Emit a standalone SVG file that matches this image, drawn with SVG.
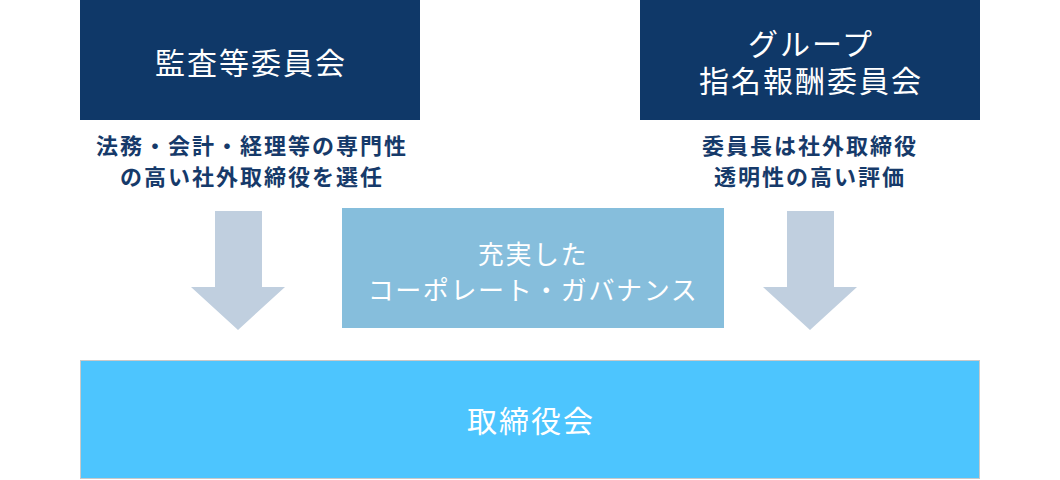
<svg xmlns="http://www.w3.org/2000/svg" width="1060" height="480" viewBox="0 0 1060 480">
<style>
.t{font-family:"Noto Sans CJK JP","Noto Sans",sans-serif;text-anchor:middle;dominant-baseline:central;}
.w{fill:#ffffff;}
.title{font-size:30px;letter-spacing:2px;}
.desc{font-size:22px;font-weight:bold;letter-spacing:2px;fill:#163a6a;}
.mid{font-size:26px;letter-spacing:1.6px;}
.navy{fill:#0f3868;}
.arrow{fill:#c0cfdf;}
</style>
<rect width="1060" height="480" fill="#ffffff"/>
<g id="audit">
<rect class="navy" x="80" y="0" width="340" height="120"/>
<text class="t w title" x="251" y="61">監査等委員会</text>
<text class="t desc"><tspan x="252" y="143.5">法務・会計・経理等の専門性</tspan><tspan x="252" y="175">の高い社外取締役を選任</tspan></text>
</g>
<g id="nomination">
<rect class="navy" x="640" y="0" width="340" height="120"/>
<text class="t w title"><tspan x="811" y="41.5">グループ</tspan><tspan x="811" y="79">指名報酬委員会</tspan></text>
<text class="t desc"><tspan x="810" y="143.5">委員長は社外取締役</tspan><tspan x="810" y="175">透明性の高い評価</tspan></text>
</g>
<g id="governance">
<rect x="342" y="208" width="382" height="120" fill="#86bedc"/>
<text class="t w mid"><tspan x="533" y="252">充実した</tspan><tspan x="533" y="288">コーポレート・ガバナンス</tspan></text>
</g>
<g id="board">
<rect x="80.5" y="360.5" width="899" height="118" fill="#4dc5fe" stroke="#c9c9c9" stroke-width="1"/>
<text class="t w title" x="531" y="419">取締役会</text>
</g>
<g id="connectors">
<polygon class="arrow" points="215,211 262,211 262,287 285,287 238,330 191,287 215,287"/>
<polygon class="arrow" points="787,211 834,211 834,287 857,287 810,330 763,287 787,287"/>
</g>
</svg>
